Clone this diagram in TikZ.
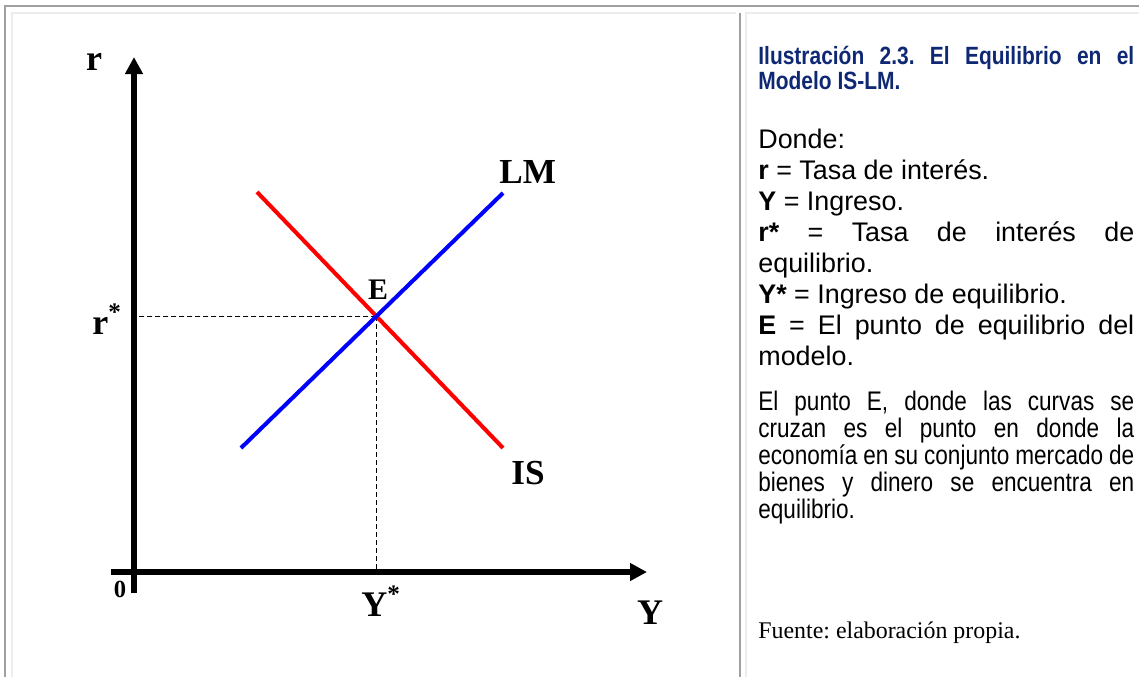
\documentclass[tikz,border=0pt]{standalone}
\usepackage{fontspec}
\setmainfont{Liberation Serif}
\setsansfont{Liberation Sans}
\newfontfamily\narrowsf[FakeStretch=0.84]{Liberation Sans}
\usetikzlibrary{arrows.meta}
\frenchspacing
\definecolor{framegray}{RGB}{160,160,160}
\definecolor{cellgray}{RGB}{236,236,236}
\definecolor{captionblue}{RGB}{15,40,115}
\tikzset{
  axisline/.style  = {-{Triangle[length=3.4mm,width=3.4mm]},line width=3.7pt},
  curveline/.style = {line width=2.3pt},
  guide/.style     = {dash pattern=on 1mm off 0.6mm,line width=0.6pt},
  axlabel/.style   = {inner sep=0pt,font=\fontsize{20.5}{22}\selectfont\bfseries},
  crvlabel/.style  = {inner sep=0pt,anchor=base west,font=\fontsize{20}{22}\selectfont\bfseries},
  bodytext/.style  = {inner sep=0pt,anchor=base west,font=\sffamily\fontsize{15.3}{18}\selectfont},
  narrowtext/.style= {inner sep=0pt,anchor=base west,font=\narrowsf\fontsize{15.3}{18}\selectfont},
  captext/.style   = {inner sep=0pt,anchor=base west,text=captionblue,
                      font=\narrowsf\bfseries\fontsize{14.2}{16}\selectfont}
}
\newcommand{\fullline}[1]{\makebox[7.52cm][s]{#1}}

\begin{document}
\begin{tikzpicture}[x=0.02cm,y=-0.02cm]
  \useasboundingbox (0,0) rectangle (1139,677);
  % table frame
  \draw[framegray,line width=0.04cm] (4,6) -- (1139,6);
  \draw[framegray,line width=0.04cm] (5,6) -- (5,677);
  \draw[framegray,line width=0.05cm] (740,13) -- (740,677);
  \draw[cellgray,line width=0.04cm] (11,13) -- (736,13);
  \draw[cellgray,line width=0.04cm] (12,13) -- (12,677);
  \draw[cellgray,line width=0.04cm] (745,13) -- (1139,13);
  \draw[cellgray,line width=0.04cm] (746,13) -- (746,677);

  % axes
  \coordinate (O)     at (134,572);
  \coordinate (ytop)  at (134,57);
  \coordinate (ybot)  at (134,593);
  \coordinate (xleft) at (111,572);
  \coordinate (xend)  at (647,572);
  \draw[axisline] (ybot) -- (ytop);
  \draw[axisline] (xleft) -- (xend);

  % IS and LM
  \coordinate (is1) at (257,192);
  \coordinate (is2) at (503,448);
  \coordinate (lm1) at (241,448);
  \coordinate (lm2) at (503,193);
  \coordinate (E) at (intersection of is1--is2 and lm1--lm2);
  \draw[guide] (E) -- (E -| O);
  \draw[guide] (E) -- (E |- O);
  \draw[curveline,red]  (is1) -- (is2);
  \draw[curveline,blue] (lm1) -- (lm2);

  \node[axlabel,anchor=base] (lblr)     at (94,70)   {r};
  \node[axlabel,anchor=base west] (lblrs) at (92,334) {r\textsuperscript{*}};
  \node[axlabel,anchor=base] (lblY)     at (650,624) {Y};
  \node[axlabel,anchor=base west] (lblYs) at (361,616) {Y\textsuperscript{*}};
  \node[inner sep=0pt,anchor=base,font=\fontsize{14}{16}\selectfont\bfseries] (lblzero) at (120,597) {0};
  \node[crvlabel] (lblLM) at (499,183) {LM};
  \node[crvlabel] (lblIS) at (511,484) {IS};
  \node[inner sep=0pt,anchor=base,font=\fontsize{17}{19}\selectfont\bfseries] (lblE) at (378,299) {E};

  % caption column
  \node[captext] (cap1) at (758,64) {\fullline{Ilustración 2.3. El Equilibrio en el}};
  \node[captext] (cap2) at (758,89) {Modelo IS-LM.};
  \node[bodytext] (don)   at (758,148) {Donde:};
  \node[bodytext] (defr)  at (758,179) {\textbf{r} = Tasa de interés.};
  \node[bodytext] (defy)  at (758,210) {\textbf{Y} = Ingreso.};
  \node[bodytext] (defrs) at (758,241) {\fullline{\textbf{r*} = Tasa de interés de}};
  \node[bodytext] (defrt) at (758,272) {equilibrio.};
  \node[bodytext] (defys) at (758,303) {\textbf{Y*} = Ingreso de equilibrio.};
  \node[bodytext] (defe)  at (758,334) {\fullline{\textbf{E} = El punto de equilibrio del}};
  \node[bodytext] (defet) at (758,365) {modelo.};
  \node[narrowtext] (par1) at (758,410) {\fullline{El punto E, donde las curvas se}};
  \node[narrowtext] (par2) at (758,437) {\fullline{cruzan es el punto en donde la}};
  \node[narrowtext] (par3) at (758,464) {\fullline{economía en su conjunto mercado de}};
  \node[narrowtext] (par4) at (758,491) {\fullline{bienes y dinero se encuentra en}};
  \node[narrowtext] (par5) at (758,518) {equilibrio.};
  \node[inner sep=0pt,anchor=base west,font=\fontsize{13.6}{16}\selectfont] (src) at (758,638) {Fuente: elaboración propia.};
\end{tikzpicture}
\end{document}
